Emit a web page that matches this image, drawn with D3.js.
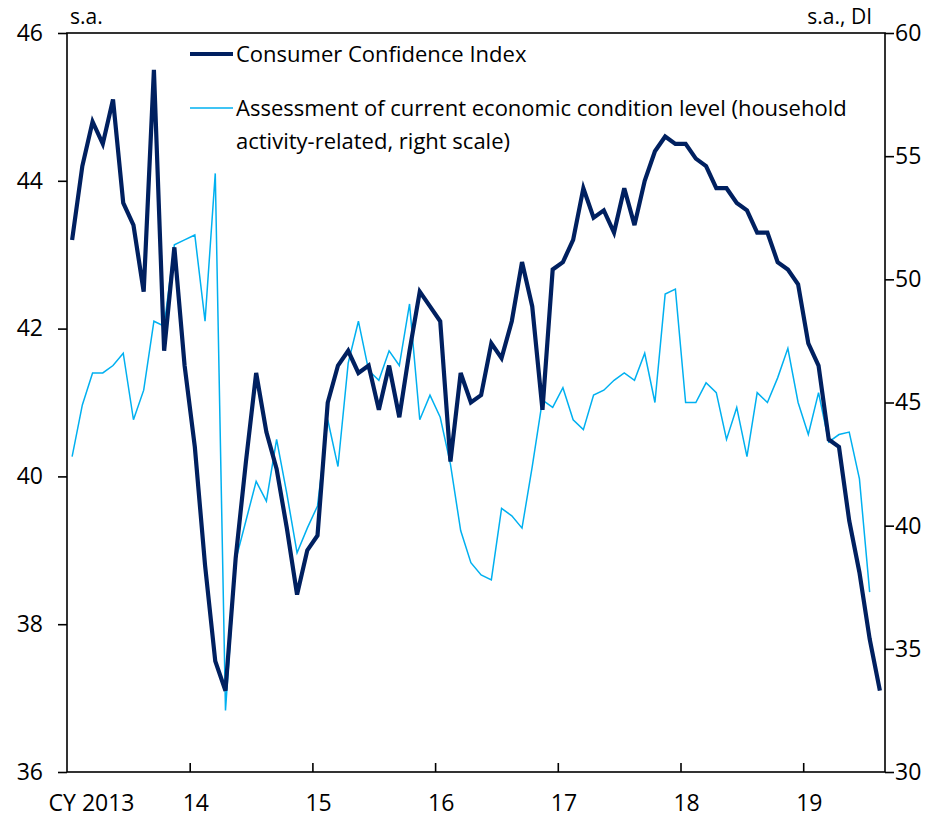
<!DOCTYPE html>
<meta charset="utf-8">
<script src="https://d3js.org/d3.v7.min.js"></script>
<style>
  body { margin: 0; background: #fff; }
  svg text { font-family: "Open Sans", "Noto Sans", sans-serif; fill: #000; }
</style>
<svg id="chart" width="945" height="820"></svg>
<script>
"use strict"

// monthly, Jan 2013 .. Aug 2019
var cci = [
  43.2, 44.2, 44.8, 44.5, 45.1, 43.7, 43.4, 42.5, 45.5, 41.7, 43.1, 41.5,
  40.4, 38.8, 37.5, 37.1, 38.9, 40.2, 41.4, 40.6, 40.1, 39.3, 38.4, 39.0,
  39.2, 41.0, 41.5, 41.7, 41.4, 41.5, 40.9, 41.5, 40.8, 41.7, 42.5, 42.3,
  42.1, 40.2, 41.4, 41.0, 41.1, 41.8, 41.6, 42.1, 42.9, 42.3, 40.9, 42.8,
  42.9, 43.2, 43.9, 43.5, 43.6, 43.3, 43.9, 43.4, 44.0, 44.4, 44.6, 44.5,
  44.5, 44.3, 44.2, 43.9, 43.9, 43.7, 43.6, 43.3, 43.3, 42.9, 42.8, 42.6,
  41.8, 41.5, 40.5, 40.4, 39.4, 38.7, 37.8, 37.1
]
// Jan 2013 .. Jul 2019 (right scale)
var assessment = [
  42.8, 44.9, 46.2, 46.2, 46.5, 47.0, 44.3, 45.5, 48.3, 48.1, 51.4, 51.6,
  51.8, 48.3, 54.3, 32.5, 38.6, 40.2, 41.8, 41.0, 43.5, 41.3, 38.9, 39.9,
  40.8, 44.3, 42.4, 46.6, 48.3, 46.3, 45.9, 47.1, 46.5, 49.0, 44.3, 45.3,
  44.4, 42.5, 39.8, 38.5, 38.0, 37.8, 40.7, 40.4, 39.9, 42.4, 45.1, 44.8,
  45.6, 44.3, 43.9, 45.3, 45.5, 45.9, 46.2, 45.9, 47.0, 45.0, 49.4, 49.6,
  45.0, 45.0, 45.8, 45.4, 43.5, 44.8, 42.8, 45.4, 45.0, 46.0, 47.2, 45.0,
  43.7, 45.4, 43.4, 43.7, 43.8, 41.9, 37.3
]
var leftTicks = [36, 38, 40, 42, 44, 46]
var rightTicks = [30, 35, 40, 45, 50, 55, 60]
var yearLabels = ["CY 2013", "14", "15", "16", "17", "18", "19"]
var legendLabels = [
  ["Consumer Confidence Index"],
  ["Assessment of current economic condition level (household",
   "activity-related, right scale)"]
]

var NAVY = "#002060", CYAN = "#00b0f0"
var FS = 22, TICK_FS = 23

var svg = d3.select("#chart")
var pLeft = 67, pRight = 885, pTop = 33, pBottom = 772

var x = d3.scaleLinear().domain([0, 80]).range([pLeft, pRight])
var yL = d3.scaleLinear().domain([36, 46]).range([pBottom, pTop])
var yR = d3.scaleLinear().domain([30, 60]).range([pBottom, pTop])

// frame
svg.append("rect")
  .attr("x", pLeft).attr("y", pTop)
  .attr("width", pRight - pLeft).attr("height", pBottom - pTop)
  .attr("fill", "none").attr("stroke", "#000").attr("stroke-width", 1.6)

var axL = svg.append("g").attr("transform", "translate(" + pLeft + ",0)")
  .call(d3.axisLeft(yL).tickValues(leftTicks).tickSize(9).tickPadding(15))
var axR = svg.append("g").attr("transform", "translate(" + pRight + ",0)")
  .call(d3.axisRight(yR).tickValues(rightTicks).tickSize(9).tickPadding(1))
var axB = svg.append("g").attr("transform", "translate(0," + pBottom + ")")
  .call(d3.axisBottom(x).tickValues([12, 24, 36, 48, 60, 72]).tickSize(-9).tickFormat(""))

;[axL, axR, axB].forEach(function(g){
  g.select(".domain").remove()
  g.selectAll(".tick line").attr("stroke", "#000").attr("stroke-width", 1.6)
  g.selectAll(".tick text").style("font-size", TICK_FS + "px")
    .style("font-family", "'Open Sans', 'Noto Sans', sans-serif").attr("fill", "#000")
})

svg.selectAll(".ylab").data(yearLabels).enter().append("text")
  .attr("x", function(d, i){ return i === 0 ? x(2.4) : x(i * 12 + 0.6) })
  .attr("y", 811)
  .attr("text-anchor", "middle")
  .style("font-size", TICK_FS + "px")
  .text(function(d){ return d })

svg.append("text").attr("x", 70).attr("y", 24).style("font-size", "21px").text("s.a.")
svg.append("text").attr("x", 872).attr("y", 24).attr("text-anchor", "end")
  .style("font-size", "21px").text("s.a., DI")

var line = function(scale){
  return d3.line()
    .x(function(d, i){ return x(i + 0.5) })
    .y(function(d){ return scale(d) })
}

svg.append("path").datum(assessment)
  .attr("d", line(yR))
  .attr("fill", "none").attr("stroke", CYAN).attr("stroke-width", 1.5)
  .attr("stroke-linejoin", "miter")

svg.append("path").datum(cci)
  .attr("d", line(yL))
  .attr("fill", "none").attr("stroke", NAVY).attr("stroke-width", 4.2)
  .attr("stroke-linejoin", "miter")

// legend
var leg = [{ color: NAVY, w: 4.2, y: 54 }, { color: CYAN, w: 1.5, y: 108 }]
leg.forEach(function(l, k){
  svg.append("line")
    .attr("x1", 190).attr("x2", 233).attr("y1", l.y).attr("y2", l.y)
    .attr("stroke", l.color).attr("stroke-width", l.w)
  legendLabels[k].forEach(function(t, j){
    svg.append("text")
      .attr("x", 236).attr("y", l.y + j * 33)
      .attr("dy", "0.35em")
      .style("font-size", FS + "px")
      .text(t)
  })
})
</script>
